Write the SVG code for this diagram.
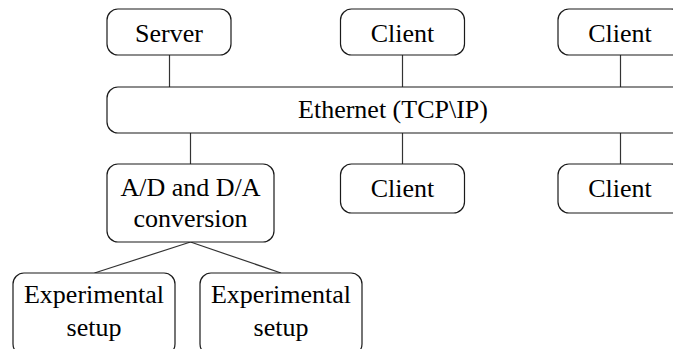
<svg xmlns="http://www.w3.org/2000/svg" width="673" height="349" viewBox="0 0 673 349">
  <style>
    .box { fill: #ffffff; stroke: #1a1a1a; stroke-width: 1.2; }
    .wire { stroke: #333333; stroke-width: 1.2; fill: none; }
  </style>
  <rect width="673" height="349" fill="#ffffff"/>

  <g id="connectors">
    <line class="wire" x1="169.5" y1="55" x2="169.5" y2="87"/>
    <line class="wire" x1="402.5" y1="55" x2="402.5" y2="87"/>
    <line class="wire" x1="620.5" y1="55" x2="620.5" y2="87"/>
    <line class="wire" x1="190.5" y1="133" x2="190.5" y2="164"/>
    <line class="wire" x1="402.5" y1="133" x2="402.5" y2="164"/>
    <line class="wire" x1="620.5" y1="133" x2="620.5" y2="164"/>
    <line class="wire" x1="190.5" y1="242" x2="94.5" y2="273"/>
    <line class="wire" x1="190.5" y1="242" x2="281" y2="273"/>
  </g>

  <g id="server">
    <rect class="box" x="107" y="9" width="124" height="46" rx="11"/>
    <text x="169" y="42" font-family="Liberation Serif" font-size="26" text-anchor="middle">Server</text>
  </g>
  <g id="client-top-1">
    <rect class="box" x="340.5" y="9" width="124" height="46" rx="11"/>
    <text x="402.5" y="42" font-family="Liberation Serif" font-size="26" text-anchor="middle">Client</text>
  </g>
  <g id="client-top-2">
    <rect class="box" x="558" y="9" width="124" height="46" rx="11"/>
    <text x="620" y="42" font-family="Liberation Serif" font-size="26" text-anchor="middle">Client</text>
  </g>

  <g id="ethernet">
    <rect class="box" x="107" y="87" width="600" height="46" rx="11"/>
    <text x="393" y="118" font-family="Liberation Serif" font-size="26" text-anchor="middle">Ethernet (TCP\IP)</text>
  </g>

  <g id="adda">
    <rect class="box" x="107" y="164" width="167" height="78" rx="11"/>
    <text x="190.5" y="196" font-family="Liberation Serif" font-size="26" text-anchor="middle">A/D and D/A</text>
    <text x="190.5" y="227" font-family="Liberation Serif" font-size="26" text-anchor="middle">conversion</text>
  </g>
  <g id="client-bottom-1">
    <rect class="box" x="340.5" y="164" width="124" height="49" rx="11"/>
    <text x="402.5" y="197" font-family="Liberation Serif" font-size="26" text-anchor="middle">Client</text>
  </g>
  <g id="client-bottom-2">
    <rect class="box" x="558" y="164" width="124" height="49" rx="11"/>
    <text x="620" y="197" font-family="Liberation Serif" font-size="26" text-anchor="middle">Client</text>
  </g>

  <g id="setup-1">
    <rect class="box" x="13" y="273" width="162" height="82" rx="11"/>
    <text x="94" y="303" font-family="Liberation Serif" font-size="26" text-anchor="middle">Experimental</text>
    <text x="94" y="336" font-family="Liberation Serif" font-size="26" text-anchor="middle">setup</text>
  </g>
  <g id="setup-2">
    <rect class="box" x="200" y="273" width="162" height="82" rx="11"/>
    <text x="281" y="303" font-family="Liberation Serif" font-size="26" text-anchor="middle">Experimental</text>
    <text x="281" y="336" font-family="Liberation Serif" font-size="26" text-anchor="middle">setup</text>
  </g>
</svg>
